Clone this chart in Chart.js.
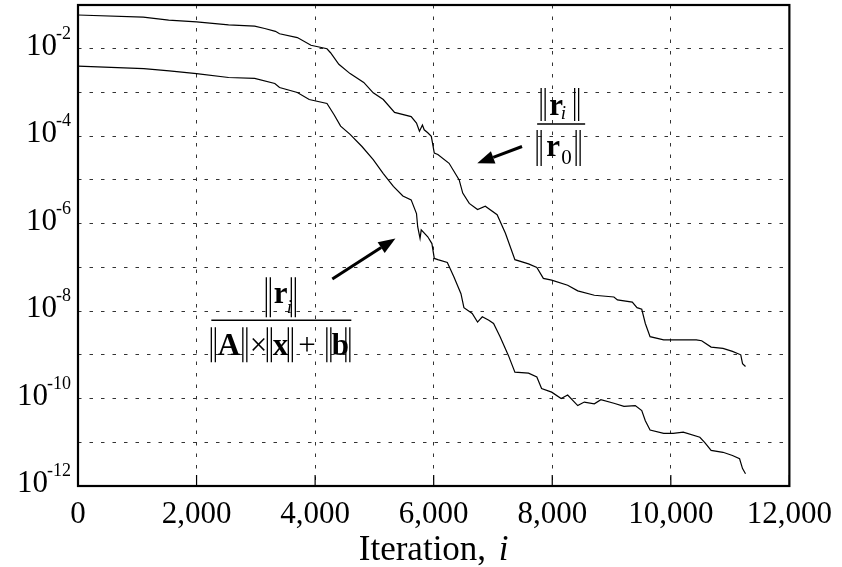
<!DOCTYPE html>
<html>
<head>
<meta charset="utf-8">
<script src="https://cdn.jsdelivr.net/npm/chart.js@4"></script>
<style>
  html, body { margin: 0; padding: 0; background: #fff; }
  #wrap { width: 842px; height: 567px; }
</style>
</head>
<body>
<div id="wrap"><canvas id="residuals" width="842" height="567"></canvas></div>
<script>
// relative residual ||r_i|| / ||r_0||
const itersRel = [0, 1100, 1530, 2000, 2540, 2980, 3150, 3330, 3400, 3700,
    3930, 4200, 4260, 4400, 4590, 4820, 4980, 5150, 5340, 5620,
    5710, 5760, 5810, 5840, 5900, 5960, 6010, 6070, 6260, 6430,
    6490, 6600, 6740, 6870, 7070, 7210, 7370, 7600, 7740, 7850,
    7990, 8260, 8430, 8710, 9040, 9100, 9350, 9430, 9510, 9570,
    9650, 9880, 10040, 10430, 10520, 10680, 10880, 11040, 11180, 11210, 11260];
const relResidual = [5.9e-2, 5.3e-2, 4.5e-2, 4.1e-2, 3.5e-2, 3.3e-2, 2.9e-2, 2.5e-2, 2.2e-2, 1.8e-2,
    1.2e-2, 1.0e-2, 8.1e-3, 4.4e-3, 2.7e-3, 1.7e-3, 9.8e-4, 6.9e-4, 3.5e-4, 2.8e-4,
    2.0e-4, 1.3e-4, 1.8e-4, 1.4e-4, 1.2e-4, 9.9e-5, 4.1e-5, 3.8e-5, 2.4e-5, 1.0e-5,
    5.0e-6, 2.9e-6, 2.1e-6, 2.5e-6, 1.6e-6, 6.0e-7, 1.5e-7, 1.2e-7, 1.0e-7, 5.6e-8,
    5.1e-8, 3.9e-8, 2.9e-8, 2.3e-8, 2.1e-8, 1.8e-8, 1.6e-8, 1.2e-8, 1.1e-8, 5.2e-9,
    2.6e-9, 2.2e-9, 2.2e-9, 2.2e-9, 2.1e-9, 1.5e-9, 1.4e-9, 1.2e-9, 1.0e-9, 6.3e-10, 5.4e-10];

// normwise backward error ||r_i|| / (||A|| ||x|| + ||b||)
const itersNorm = [0, 1110, 1540, 2000, 2540, 2980, 3320, 3400, 3700, 3900,
    4200, 4320, 4430, 4590, 4790, 4980, 5150, 5320, 5480, 5620,
    5710, 5730, 5770, 5790, 5900, 5970, 6010, 6070, 6230, 6340,
    6460, 6510, 6650, 6740, 6820, 6930, 7010, 7120, 7260, 7370,
    7600, 7740, 7820, 7990, 8150, 8260, 8430, 8540, 8710, 8820,
    9040, 9210, 9400, 9510, 9570, 9650, 9880, 10040, 10210, 10490,
    10570, 10680, 10880, 11040, 11160, 11210, 11260];
const normResidual = [4.0e-3, 3.5e-3, 3.1e-3, 2.7e-3, 2.2e-3, 2.1e-3, 1.6e-3, 1.3e-3, 1.0e-3, 6.9e-4,
    5.6e-4, 3.1e-4, 1.7e-4, 1.1e-4, 5.8e-5, 2.9e-5, 1.4e-5, 7.1e-6, 4.3e-6, 3.5e-6,
    1.7e-6, 8.5e-7, 4.6e-7, 7.2e-7, 5.0e-7, 3.5e-7, 1.6e-7, 1.5e-7, 1.3e-7, 6.1e-8,
    2.5e-8, 1.2e-8, 8.8e-9, 5.6e-9, 7.4e-9, 6.2e-9, 5.2e-9, 2.6e-9, 9.7e-10, 4.0e-10,
    3.8e-10, 3.1e-10, 1.7e-10, 1.4e-10, 1.0e-10, 1.2e-10, 6.9e-11, 8.3e-11, 7.6e-11, 9.4e-11,
    7.8e-11, 6.6e-11, 6.9e-11, 5.3e-11, 3.1e-11, 1.9e-11, 1.6e-11, 1.6e-11, 1.7e-11, 1.3e-11,
    1.0e-11, 6.5e-12, 5.9e-12, 5.0e-12, 4.2e-12, 2.5e-12, 1.9e-12];

// axes
const iterTicks = [0, 2000, 4000, 6000, 8000, 10000, 12000];
const decadeExps = [-12, -11, -10, -9, -8, -7, -6, -5, -4, -3, -2, -1];
const labelExps = [-12, -10, -8, -6, -4, -2];

// where the labels and arrows sit (data coordinates)
const relLabelAt = { x: 8150, y: 1.9e-4 };
const normLabelAt = { x: 3430, y: 6.2e-9 };
const relArrow = { from: { x: 7490, y: 5.8e-5 }, to: { x: 6735, y: 2.4e-5 } };
const normArrow = { from: { x: 4290, y: 5.4e-8 }, to: { x: 5355, y: 4.6e-7 } };

const SERIF = '"Liberation Serif", "Times New Roman", serif';

const toPoints = (xs, ys) => xs.map((x, i) => ({ x, y: ys[i] }));

function vline(ctx, x, y0, y1) {
    ctx.beginPath();
    ctx.moveTo(x, y0);
    ctx.lineTo(x, y1);
    ctx.stroke();
}

// double norm bar ‖
function normBar(ctx, x, y0, y1) {
    vline(ctx, x, y0, y1);
    vline(ctx, x + 4, y0, y1);
}

function text(ctx, s, font, x, y) {
    ctx.font = font;
    ctx.fillText(s, x, y);
}

function arrow(ctx, x0, y0, x1, y1) {
    const ang = Math.atan2(y1 - y0, x1 - x0);
    const len = 17, half = 6.5;
    const bx = x1 - len * Math.cos(ang), by = y1 - len * Math.sin(ang);
    ctx.lineWidth = 3;
    ctx.beginPath();
    ctx.moveTo(x0, y0);
    ctx.lineTo(bx, by);
    ctx.stroke();
    ctx.beginPath();
    ctx.moveTo(x1, y1);
    ctx.lineTo(bx + half * Math.sin(ang), by - half * Math.cos(ang));
    ctx.lineTo(bx - half * Math.sin(ang), by + half * Math.cos(ang));
    ctx.closePath();
    ctx.fill();
}

const paperPlugin = {
    id: "paper",
    afterDraw(chart) {
        const { ctx, chartArea: a, scales: { x, y } } = chart;
        ctx.save();
        ctx.strokeStyle = "#000";
        ctx.fillStyle = "#000";

        // short solid ticks along the bottom
        ctx.lineWidth = 1.2;
        iterTicks.forEach(v => {
            const px = x.getPixelForValue(v);
            vline(ctx, px, a.bottom, a.bottom - 11);
        });

        // frame
        ctx.lineWidth = 2.2;
        ctx.strokeRect(a.left, a.top, a.right - a.left, a.bottom - a.top);

        // y labels 10^n
        ctx.textBaseline = "alphabetic";
        labelExps.forEach(e => {
            const py = y.getPixelForValue(Math.pow(10, e));
            const sup = String(e);
            ctx.font = `18px ${SERIF}`;
            const w = ctx.measureText(sup).width;
            const supLeft = a.left - 7 - w;
            ctx.textAlign = "left";
            ctx.fillText(sup, supLeft, py - 10);
            ctx.textAlign = "right";
            text(ctx, "10", `31px ${SERIF}`, supLeft + 1, py + 6);
        });

        // x axis title
        ctx.textAlign = "left";
        ctx.font = `35px ${SERIF}`;
        const t1 = "Iteration, ";
        const w1 = ctx.measureText(t1).width;
        ctx.font = `italic 35px ${SERIF}`;
        const w2 = ctx.measureText("i").width;
        const tx = (a.left + a.right) / 2 - (w1 + w2 + 4) / 2;
        text(ctx, t1, `35px ${SERIF}`, tx, a.bottom + 74);
        text(ctx, "i", `italic 35px ${SERIF}`, tx + w1 + 4, a.bottom + 74);

        // ||r_i|| / ||r_0||
        let cx = x.getPixelForValue(relLabelAt.x);
        let by = y.getPixelForValue(relLabelAt.y);
        ctx.lineWidth = 1.5;
        ctx.beginPath();
        ctx.moveTo(cx - 24, by);
        ctx.lineTo(cx + 24, by);
        ctx.stroke();
        ctx.lineWidth = 1.3;
        normBar(ctx, cx - 20, by - 36, by - 3);
        normBar(ctx, cx + 13.5, by - 36, by - 3);
        text(ctx, "r", `bold 31px ${SERIF}`, cx - 12, by - 9);
        text(ctx, "i", `italic 19px ${SERIF}`, cx - 0.5, by - 5);
        normBar(ctx, cx - 24, by + 6, by + 42);
        normBar(ctx, cx + 15, by + 6, by + 42);
        text(ctx, "r", `bold 31px ${SERIF}`, cx - 15, by + 32);
        text(ctx, "0", `21px ${SERIF}`, cx, by + 40);

        // ||r_i|| / (||A|| x ||x|| + ||b||)
        cx = x.getPixelForValue(normLabelAt.x);
        by = y.getPixelForValue(normLabelAt.y);
        ctx.lineWidth = 1.5;
        ctx.beginPath();
        ctx.moveTo(cx - 70, by);
        ctx.lineTo(cx + 70, by);
        ctx.stroke();
        ctx.lineWidth = 1.3;
        normBar(ctx, cx - 15, by - 43, by - 3);
        normBar(ctx, cx + 10, by - 43, by - 3);
        text(ctx, "r", `bold 31px ${SERIF}`, cx - 7.5, by - 17);
        text(ctx, "i", `italic 19px ${SERIF}`, cx + 5.5, by - 7);
        const y0 = by + 7, y1 = by + 42, base = by + 35;
        normBar(ctx, cx - 70, y0, y1);
        text(ctx, "A", `bold 31px ${SERIF}`, cx - 63.5, base);
        normBar(ctx, cx - 38.5, y0, y1);
        text(ctx, "\u00d7", `31px ${SERIF}`, cx - 31.5, base);
        normBar(ctx, cx - 14, y0, y1);
        text(ctx, "x", `bold 31px ${SERIF}`, cx - 8.5, base);
        normBar(ctx, cx + 7, y0, y1);
        text(ctx, "+", `31px ${SERIF}`, cx + 17, base);
        normBar(ctx, cx + 45.5, y0, y1);
        text(ctx, "b", `bold 31px ${SERIF}`, cx + 50.5, base);
        normBar(ctx, cx + 64.5, y0, y1);

        // arrows
        [relArrow, normArrow].forEach(ar => {
            arrow(ctx,
                x.getPixelForValue(ar.from.x), y.getPixelForValue(ar.from.y),
                x.getPixelForValue(ar.to.x), y.getPixelForValue(ar.to.y));
        });

        ctx.restore();
    }
};

const gridStyle = { color: "#333", lineWidth: 1, drawTicks: false };
const gridBorder = { display: false, dash: [3.5, 8] };

new Chart(document.getElementById("residuals"), {
    type: "line",
    data: {
        datasets: [
            {
                label: "||r_i|| / ||r_0||",
                data: toPoints(itersRel, relResidual),
                borderColor: "#000",
                borderWidth: 1.2,
                pointRadius: 0,
                tension: 0
            },
            {
                label: "||r_i|| / (||A|| ||x|| + ||b||)",
                data: toPoints(itersNorm, normResidual),
                borderColor: "#000",
                borderWidth: 1.2,
                pointRadius: 0,
                tension: 0
            }
        ]
    },
    options: {
        responsive: false,
        animation: false,
        layout: { padding: { top: 5, right: 45, left: 0, bottom: 0 } },
        plugins: { legend: { display: false }, tooltip: { enabled: false } },
        scales: {
            x: {
                type: "linear",
                min: 0,
                max: 12000,
                afterBuildTicks: s => { s.ticks = iterTicks.map(v => ({ value: v })); },
                afterFit: s => { s.height = 81; },
                grid: gridStyle,
                border: gridBorder,
                ticks: {
                    color: "#000",
                    padding: 10,
                    maxRotation: 0,
                    font: { family: SERIF, size: 31 },
                    callback: v => v.toLocaleString("en-US")
                }
            },
            y: {
                type: "logarithmic",
                min: 1e-12,
                max: 1e-1,
                afterBuildTicks: s => { s.ticks = decadeExps.map(e => ({ value: Math.pow(10, e) })); },
                afterFit: s => { s.width = 78; },
                grid: gridStyle,
                border: gridBorder,
                ticks: { display: false }
            }
        }
    },
    plugins: [paperPlugin]
});
</script>
</body>
</html>
